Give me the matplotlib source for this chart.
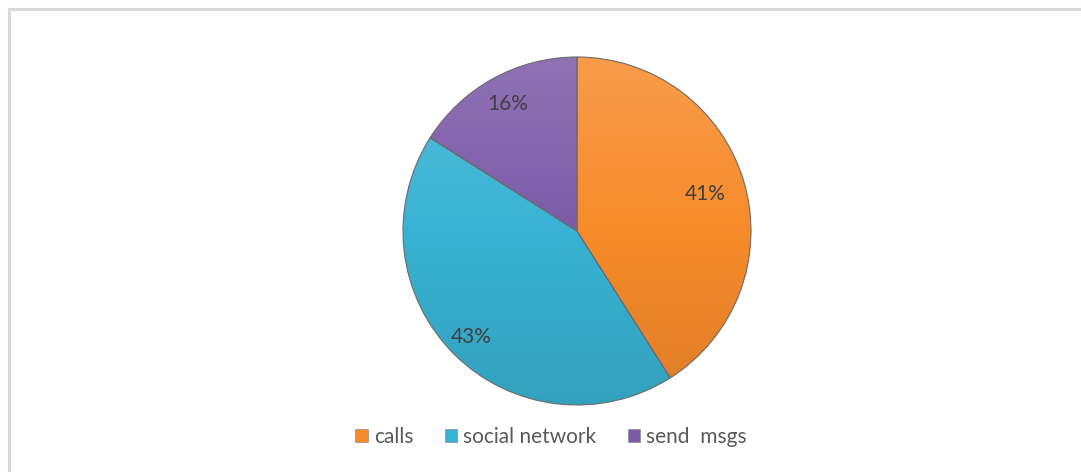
import numpy as np
import matplotlib
matplotlib.use("Agg")
import matplotlib.pyplot as plt
from matplotlib.patches import Patch, Rectangle
from matplotlib.colors import LinearSegmentedColormap, to_rgb

categories = ["calls", "social network", "send  msgs"]
shares = [41, 43, 16]
colors = ["#F78B2B", "#38B3D3", "#7C5AA8"]

plt.rcParams["font.family"] = ["Lato", "DejaVu Sans"]

W, H = 1081, 472
fig = plt.figure(figsize=(W / 100, H / 100), dpi=100)
fig.patch.set_facecolor("white")

# light grey chart-area frame
fig.patches.append(Rectangle((9 / W, -0.01), 1.02, 1 - 9 / H + 0.01,
                             transform=fig.transFigure, fill=False,
                             edgecolor="#d9d9d9", linewidth=2.2))

cx, cy, r = 577, H - 231, 174
ax = fig.add_axes([(cx - r) / W, (cy - r) / H, 2 * r / W, 2 * r / H])

wedges, _, autotexts = ax.pie(
    shares, colors=colors, startangle=90, counterclock=False, radius=1.0,
    autopct=lambda p: f"{p:.0f}%", pctdistance=0.8,
    wedgeprops=dict(linewidth=0.8, edgecolor="#6b6b6b"),
    textprops=dict(fontsize=15, color="#404040"))
ax.set_xlim(-1.0, 1.0)
ax.set_ylim(-1.0, 1.0)
ax.set_aspect("equal")
ax.axis("off")

# soft vertical shading inside each slice (lighter at the top)
yy = np.linspace(0, 1, 256).reshape(-1, 1) * np.ones((1, 2))
for w, c in zip(wedges, colors):
    rgb = np.array(to_rgb(c))
    light = np.clip(rgb + (1 - rgb) * 0.15, 0, 1)
    dark = rgb * 0.9
    cmap = LinearSegmentedColormap.from_list("shade", [dark, rgb, light])
    im = ax.imshow(yy, extent=(-1, 1, -1, 1), cmap=cmap, origin="lower",
                   aspect="auto", zorder=w.get_zorder() + 0.1)
    im.set_clip_path(w)
    w.set_zorder(w.get_zorder() + 0.2)
    w.set_facecolor("none")
    w.set_clip_on(False)
ax.set_xlim(-1.0, 1.0)
ax.set_ylim(-1.0, 1.0)

label_dist = [0.77, 0.86, 0.83]
for t, w, d in zip(autotexts, wedges, label_dist):
    ang = np.deg2rad((w.theta1 + w.theta2) / 2)
    t.set_position((d * np.cos(ang), d * np.sin(ang)))
    t.set_zorder(10)

handles = [Patch(facecolor=c, edgecolor="#8a8a8a", linewidth=0.5) for c in colors]
fig.legend(handles, categories, loc="center", ncol=3,
           bbox_to_anchor=(551 / W, 1 - 437 / H), frameon=False,
           fontsize=15, labelcolor="#595959", handlelength=0.6,
           handleheight=0.6, handletextpad=0.3, columnspacing=1.5)

fig.savefig("out.png", dpi=100, facecolor="white")
